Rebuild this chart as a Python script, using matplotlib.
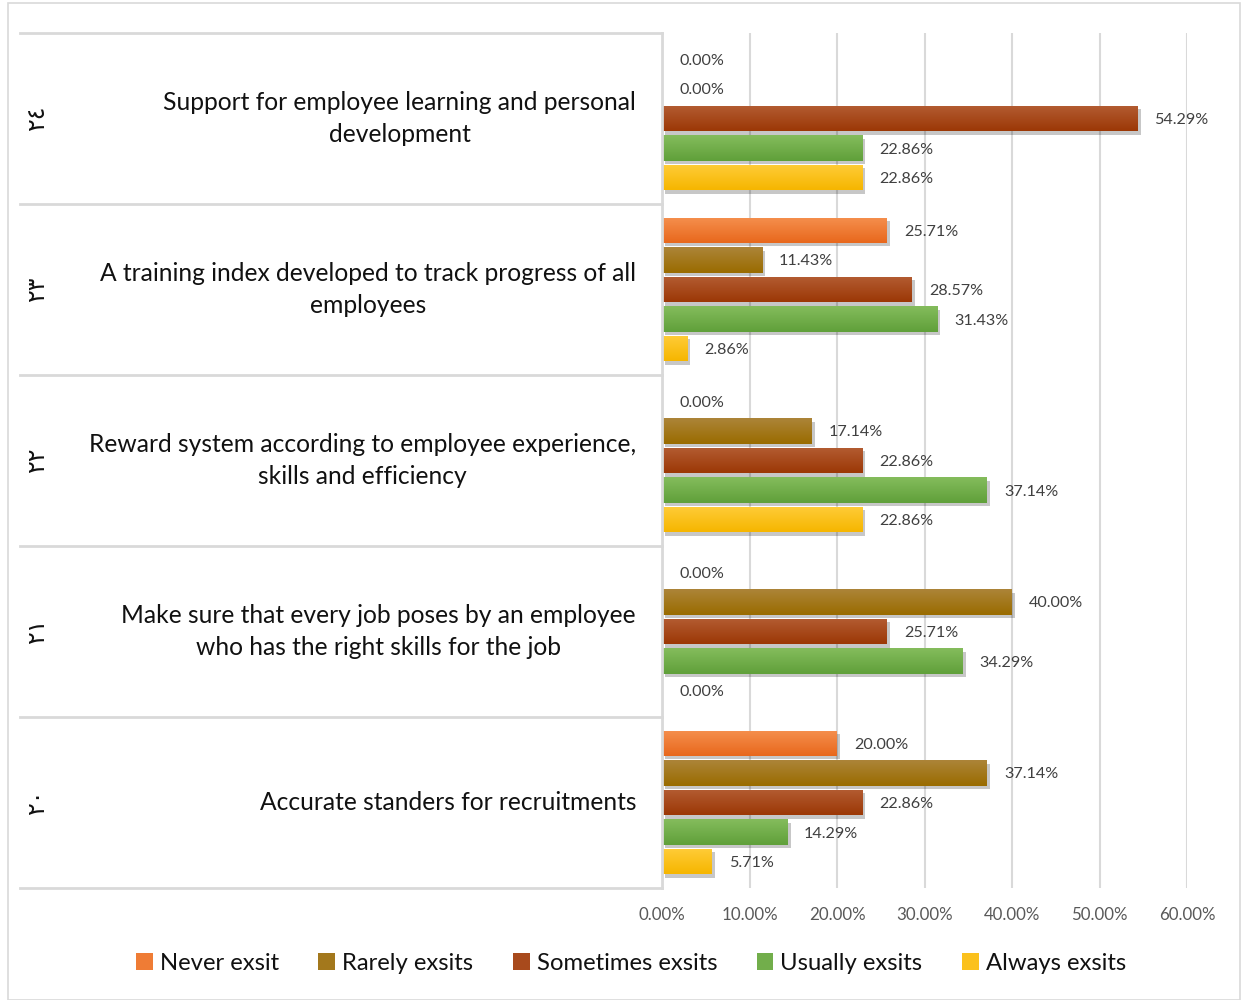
import numpy as np
import matplotlib
matplotlib.use("Agg")
import matplotlib.pyplot as plt
from matplotlib import patheffects as pe
from matplotlib.colors import to_rgb
from matplotlib.patches import Rectangle
from matplotlib.lines import Line2D

# ---- data -------------------------------------------------------------
categories = [
    "Support for employee learning and personal\ndevelopment",
    "A training index developed to track progress of all\nemployees",
    "Reward system according to employee experience,\nskills and efficiency",
    "Make sure that every job poses by an employee\nwho has the right skills for the job",
    "Accurate standers for recruitments",
]
item_numbers = ["٢٤", "٢٣", "٢٢", "٢١", "٢٠"]
series_names = ["Never exsit", "Rarely exsits", "Sometimes exsits",
                "Usually exsits", "Always exsits"]
never_exist = [0.00, 25.71, 0.00, 0.00, 20.00]
rarely_exists = [0.00, 11.43, 17.14, 40.00, 37.14]
sometimes_exists = [54.29, 28.57, 22.86, 25.71, 22.86]
usually_exists = [22.86, 31.43, 37.14, 34.29, 14.29]
always_exists = [22.86, 2.86, 22.86, 0.00, 5.71]
x_ticks = [0, 10, 20, 30, 40, 50, 60]

series_values = [never_exist, rarely_exists, sometimes_exists,
                 usually_exists, always_exists]
# (top colour, bottom colour) of each series' gradient fill
series_colors = [("#F58F4E", "#E8681C"),
                 ("#AC8438", "#9A6C00"),
                 ("#B35C32", "#9C3806"),
                 ("#84BC5C", "#60A03A"),
                 ("#FFCC38", "#F6B600")]


def mid_color(pair):
    return tuple(np.mean([to_rgb(pair[0]), to_rgb(pair[1])], axis=0))


plt.rcParams["font.family"] = ["Lato", "DejaVu Sans"]

W, H = 1241, 1000
fig = plt.figure(figsize=(W / 100, H / 100), dpi=100)

# outer chart border
fig.patches.append(Rectangle((8 / W, 0), (W - 9) / W, 1 - 3 / H,
                             transform=fig.transFigure, fill=False,
                             edgecolor="#D9D9D9", linewidth=1.2))

x0, x1, y_top, y_bot = 662, 1187, 33, 888
ax = fig.add_axes([x0 / W, 1 - y_bot / H, (x1 - x0) / W, (y_bot - y_top) / H])

n_cat = len(categories)
pitch = 0.173
bar_h = 0.148
grey = "#D9D9D9"

for s, (vals, pair) in enumerate(zip(series_values, series_colors)):
    ys = [i + 0.5 + (s - 2) * pitch for i in range(n_cat)]
    bars = ax.barh(ys, vals, height=bar_h, color=mid_color(pair), zorder=3,
                   path_effects=[pe.SimplePatchShadow(offset=(2.5, -2.5), shadow_rgbFace="#000000", alpha=0.22),
                                 pe.Normal()])
    grad = np.linspace(to_rgb(pair[0]), to_rgb(pair[1]), 32)[:, None, :]
    for b, y, v in zip(bars, ys, vals):
        if v > 0:
            im = ax.imshow(grad, extent=(0, v, y + bar_h / 2, y - bar_h / 2),
                           origin="upper", aspect="auto", zorder=4,
                           interpolation="bilinear")
            im.set_clip_path(b)
        ax.annotate(f"{v:.2f}%", xy=(v, y), xytext=(17, 0),
                    textcoords="offset pixels", va="center_baseline", ha="left",
                    fontsize=11.6, color="#404040", zorder=6,
                    annotation_clip=False)

ax.set_xlim(0, 60)
ax.set_ylim(n_cat, 0)
ax.set_xticks(x_ticks)
ax.set_xticklabels([f"{t:.2f}%" for t in x_ticks], fontsize=12.2, color="#595959")
ax.tick_params(axis="x", length=0, pad=14)
ax.set_yticks([])
ax.grid(axis="x", color=grey, linewidth=1.5, zorder=0)
for side in ["top", "right", "bottom"]:
    ax.spines[side].set_visible(False)
ax.spines["left"].set_color(grey)
ax.spines["left"].set_linewidth(2)
ax.spines["left"].set_zorder(5)

# category table on the left
tab_left = 20 / W
ax_left = x0 / W
for i in range(n_cat + 1):
    y_fig = 1 - (y_top + i * (y_bot - y_top) / n_cat) / H
    fig.add_artist(Line2D([tab_left, ax_left], [y_fig, y_fig],
                          transform=fig.transFigure, color=grey, linewidth=2))

for i, (cat, num) in enumerate(zip(categories, item_numbers)):
    yc = 1 - (y_top + (i + 0.5) * (y_bot - y_top) / n_cat) / H
    fig.text(636 / W, yc, cat, ha="right", va="center", multialignment="center",
             fontsize=17.7, color="#111111", linespacing=1.45)
    fig.text(37 / W, yc, num, ha="center", va="center", rotation=90,
             fontsize=17, family="DejaVu Sans", color="#111111")

# legend
handles = [Rectangle((0, 0), 1, 1, facecolor=mid_color(p)) for p in series_colors]
fig.legend(handles, series_names, loc="center", bbox_to_anchor=(631 / W, 1 - 963 / H),
           ncol=5, frameon=False, fontsize=17.2, handlelength=0.7, handleheight=0.7,
           handletextpad=0.3, columnspacing=1.65, labelcolor="#111111")

fig.savefig("out.png", dpi=100)
